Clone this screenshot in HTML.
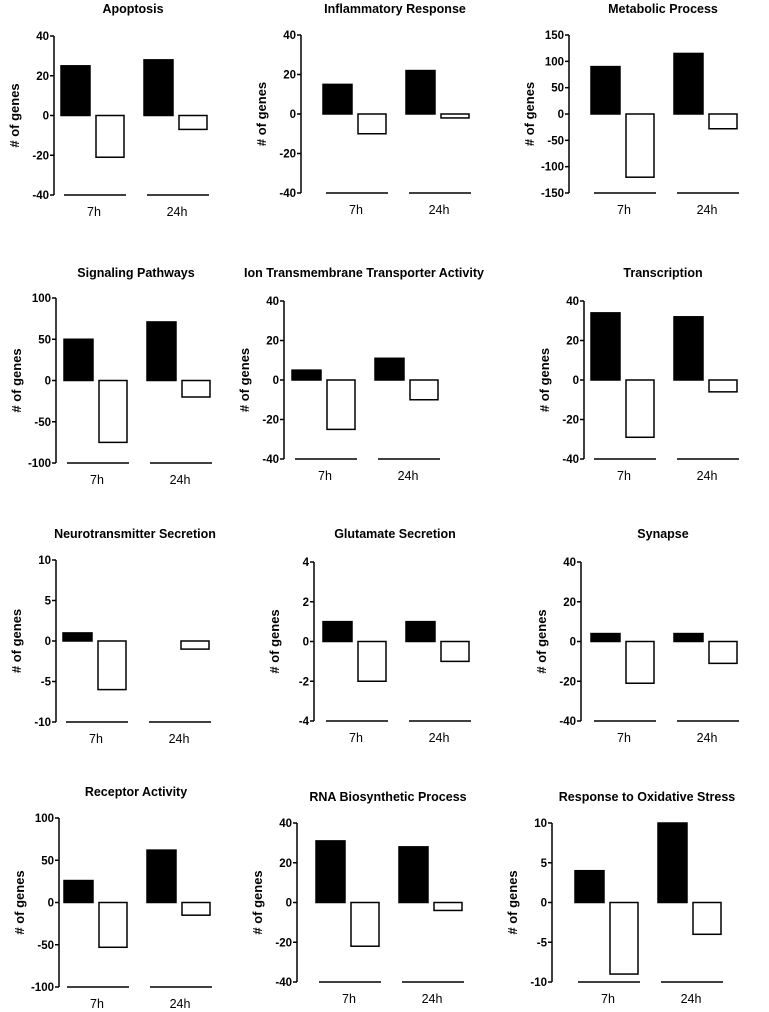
<!DOCTYPE html>
<html><head><meta charset="utf-8"><style>
html,body{margin:0;padding:0;background:#fff;}
svg{display:block;}
text{font-family:"Liberation Sans Narrow","Liberation Sans",sans-serif;font-weight:bold;fill:#000;}
</style></head><body>
<svg id="chart" width="769" height="1012" viewBox="0 0 769 1012" xmlns="http://www.w3.org/2000/svg"></svg>
<script>
const titles = ["Apoptosis","Inflammatory Response","Metabolic Process","Signaling Pathways","Ion Transmembrane Transporter Activity","Transcription","Neurotransmitter Secretion","Glutamate Secretion","Synapse","Receptor Activity","RNA Biosynthetic Process","Response to Oxidative Stress"];
const categories = ["7h","24h"];
const upValues = [[25,28],[15,22],[90,115],[50,71],[5,11],[34,32],[1,0],[1,1],[4,4],[26,62],[31,28],[4,10]];
const downValues = [[-21,-7],[-10,-2],[-120,-28],[-75,-20],[-25,-10],[-29,-6],[-6,-1],[-2,-1],[-21,-11],[-53,-15],[-22,-4],[-9,-4]];
const yMins = [-40,-40,-150,-100,-40,-40,-10,-4,-40,-100,-40,-10];
const yMaxs = [40,40,150,100,40,40,10,4,40,100,40,10];
const yTickSteps = [20,20,50,50,20,20,5,2,20,50,20,5];
// layout (pixels): axis x, top y, bottom y, first bar x, title y
const layout = [
 [54,36,195,61,13],[301,35,193,323,13],[569,35,193,591,13],
 [56,298,463,64,277],[284,301,459,292,277],[584,301,459,591,277],
 [56,560,722,63,538],[314,562,721,323,538],[581,562,721,591,538],
 [59,818,987,64,796],[297,823,982,316,801],[552,823,982,575,801]
];
const svg=document.getElementById('chart');
const NS="http://www.w3.org/2000/svg";
function mk(tag,attrs,parent){const e=document.createElementNS(NS,tag);for(const k in attrs)e.setAttribute(k,attrs[k]);(parent||svg).appendChild(e);return e;}
titles.forEach((t,i)=>{
  const [ax,top,bot,x0,ty]=layout[i];
  const g=mk('g',{});
  
  
  const y=v=>top+(yMaxs[i]-v)/(yMaxs[i]-yMins[i])*(bot-top);
  const cx=x0+72;
  const tt=mk('text',{x:cx,y:ty,'text-anchor':'middle','font-size':'12.5'},g);
  tt.textContent=t;
  
  
  const yl=mk('text',{x:0,y:0,'text-anchor':'middle','font-size':'13',transform:`translate(${ax-35},${(top+bot)/2}) rotate(-90)`,style:'font-family:"Liberation Sans",sans-serif'},g);
  yl.textContent="# of genes";
  
  
  const axl=mk('line',{x1:ax,y1:y(yMaxs[i]),x2:ax,y2:y(yMins[i]),stroke:'#000','stroke-width':1.5},g);
  
  
  for(let v=yMins[i];v<=yMaxs[i]+1e-9;v+=yTickSteps[i]){
    const tk=mk('line',{x1:ax-4,y1:y(v),x2:ax,y2:y(v),stroke:'#000','stroke-width':1.5},g);
    
    
    const tl=mk('text',{x:ax-5,y:y(v)+4,'text-anchor':'end','font-size':'11.5'},g);
    tl.textContent=String(v);
    
    
  }
  categories.forEach((c,j)=>{
    const gx=x0+j*83;
    const u=upValues[i][j], d=downValues[i][j];
    if(u!==0){
      const b=mk('rect',{x:gx,y:Math.min(y(u),y(0)),width:29,height:Math.abs(y(0)-y(u)),fill:'#000',stroke:'#000','stroke-width':1.5},g);
      
      
    }
    if(d!==0){
      const b=mk('rect',{x:gx+35,y:y(0),width:28,height:Math.abs(y(d)-y(0)),fill:'#fff',stroke:'#000','stroke-width':1.5},g);
      
      
    }
    const bl=mk('line',{x1:gx+3,y1:bot,x2:gx+65,y2:bot,stroke:'#000','stroke-width':1.5},g);
    
    
    const cl=mk('text',{x:gx+33,y:bot+21,'text-anchor':'middle','font-size':'12.5',style:'font-weight:normal'},g);
    cl.textContent=c;
    
    
  });
});
</script>
</body></html>
